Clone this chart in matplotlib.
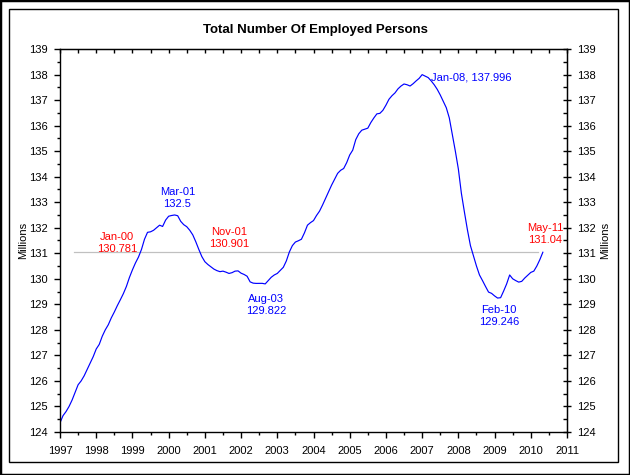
"""
Total Number Of Employed Persons - monthly line chart with notes.
"""

import numpy as np
import matplotlib
matplotlib.use("Agg")
import matplotlib.pyplot as plt
from matplotlib.patches import Rectangle
from matplotlib.ticker import MultipleLocator

plt.rcParams["font.family"] = ["Liberation Sans", "DejaVu Sans"]

# ===================================
# Data (millions, monthly)
# ===================================
employed = [
    # 1998
    124.36, 124.64, 124.80, 125.00, 125.25, 125.55, 125.85, 126.00, 126.20, 126.45, 126.69, 126.95,
    # 1999
    127.25, 127.43, 127.75, 128.00, 128.20, 128.47, 128.70, 128.95, 129.18, 129.42, 129.70, 130.05,
    # 2000
    130.35, 130.62, 130.85, 131.15, 131.55, 131.82, 131.84, 131.90, 132.00, 132.10, 132.05, 132.30,
    # 2001
    132.45, 132.48, 132.50, 132.47, 132.25, 132.12, 132.04, 131.90, 131.72, 131.45, 131.15, 130.87,
    # 2002
    130.67, 130.56, 130.47, 130.38, 130.32, 130.28, 130.30, 130.26, 130.21, 130.24, 130.30, 130.31,
    # 2003
    130.22, 130.17, 130.10, 129.88, 129.83, 129.82, 129.82, 129.822, 129.80, 129.93, 130.06, 130.15,
    # 2004
    130.21, 130.33, 130.45, 130.70, 131.05, 131.30, 131.44, 131.49, 131.55, 131.80, 132.10, 132.20,
    # 2005
    132.28, 132.48, 132.65, 132.89, 133.15, 133.42, 133.67, 133.90, 134.13, 134.25, 134.32, 134.55,
    # 2006
    134.85, 135.04, 135.45, 135.68, 135.82, 135.86, 135.90, 136.12, 136.30, 136.46, 136.48, 136.60,
    # 2007
    136.80, 137.03, 137.17, 137.28, 137.44, 137.55, 137.63, 137.60, 137.55, 137.64, 137.75, 137.85,
    # 2008
    137.996, 137.94, 137.88, 137.75, 137.60, 137.42, 137.20, 136.95, 136.70, 136.30, 135.65, 135.00,
    # 2009
    134.30, 133.35, 132.62, 131.92, 131.30, 130.90, 130.50, 130.15, 129.93, 129.70, 129.48, 129.43,
    # 2010
    129.33, 129.246, 129.26, 129.52, 129.80, 130.15, 130.00, 129.93, 129.87, 129.90, 130.03, 130.14,
    # 2011
    130.25, 130.30, 130.50, 130.75, 131.04,
]
start_year = 1997

ref_x = [1997.4, 2010.2]
ref_y = [131.04, 131.04]

blue_labels = ["Mar-01", "Aug-03", "Feb-10"]
blue_values = [132.5, 129.822, 129.246]
red_labels = ["Jan-00", "Nov-01", "May-11"]
red_values = [130.781, 130.901, 131.04]
peak_label = "Jan-08"
peak_value = 137.996

# text positions (data coords)
blue_pos = [(2000.24, 133.16), (2002.70, 128.97), (2009.12, 128.54)]
red_pos = [(1998.58, 131.40), (2001.68, 131.60), (2010.39, 131.75)]
peak_pos = (2007.24, 137.90)

x = start_year + np.arange(len(employed)) / 12

# ===================================
# Figure
# ===================================
fig = plt.figure(figsize=(6.3, 4.75), dpi=100)
ax = fig.add_axes([60 / 630, 1 - 432 / 475, 507 / 630, 383 / 475])

ax.plot(ref_x, ref_y, color="#c0c0c0", lw=0.9)
ax.plot(x, employed, color="#0000ff", lw=0.85)

for (lab, val), (tx, ty) in zip(zip(blue_labels, blue_values), blue_pos):
    ax.text(tx, ty, f"{lab}\n{val:g}", color="#0000ff", fontsize=8,
            ha="center", va="center", linespacing=1.2)

for (lab, val), (tx, ty) in zip(zip(red_labels, red_values), red_pos):
    ax.text(tx, ty, f"{lab}\n{val:g}", color="#ff0000", fontsize=8,
            ha="center", va="center", linespacing=1.2)

ax.text(peak_pos[0], peak_pos[1], f"{peak_label}, {peak_value:g}",
        color="#0000ff", fontsize=8, ha="left", va="center")

ax.set_xlim(1997, 2011)
ax.set_ylim(124, 139)

ax.xaxis.set_major_locator(MultipleLocator(1))
ax.xaxis.set_minor_locator(MultipleLocator(0.5))
ax.yaxis.set_major_locator(MultipleLocator(1))
ax.yaxis.set_minor_locator(MultipleLocator(0.5))

ax.tick_params(axis="x", which="major", direction="out", length=4,
               pad=6, labelsize=8, width=1)
ax.tick_params(axis="x", which="minor", direction="out", length=2, width=1)
ax.tick_params(axis="y", which="major", direction="out", length=4,
               pad=5, labelsize=8, width=1)
ax.tick_params(axis="y", which="minor", direction="out", length=2, width=1)

for s in ax.spines.values():
    s.set_linewidth(1)

# top and right axes
top = ax.secondary_xaxis("top")
top.xaxis.set_major_locator(MultipleLocator(1))
top.xaxis.set_minor_locator(MultipleLocator(0.5))
top.tick_params(which="both", direction="in", length=3, labeltop=False, width=1)

right = ax.secondary_yaxis("right")
right.yaxis.set_major_locator(MultipleLocator(1))
right.yaxis.set_minor_locator(MultipleLocator(0.5))
right.tick_params(which="major", direction="inout", length=6, pad=4,
                  labelsize=8, width=1)
right.tick_params(which="minor", direction="in", length=3, width=1)

# titles
fig.text(0.5, 1 - 30 / 475, "Total Number Of Employed Persons",
         ha="center", va="center", fontsize=9.5, fontweight="bold")
fig.text(23 / 630, 1 - 240 / 475, "Millions", rotation=90,
         ha="center", va="center", fontsize=8)
fig.text(605 / 630, 1 - 240 / 475, "Millions", rotation=90,
         ha="center", va="center", fontsize=8)

# frames
fig.patches.append(Rectangle((0, 0), 1, 1, transform=fig.transFigure,
                             fill=False, ec="black", lw=2.5))
fig.patches.append(Rectangle((9 / 630, 1 - 462 / 475), 609 / 630, 453 / 475,
                             transform=fig.transFigure, fill=False,
                             ec="black", lw=1))

fig.savefig("out.png", dpi=100)
plt.close()
